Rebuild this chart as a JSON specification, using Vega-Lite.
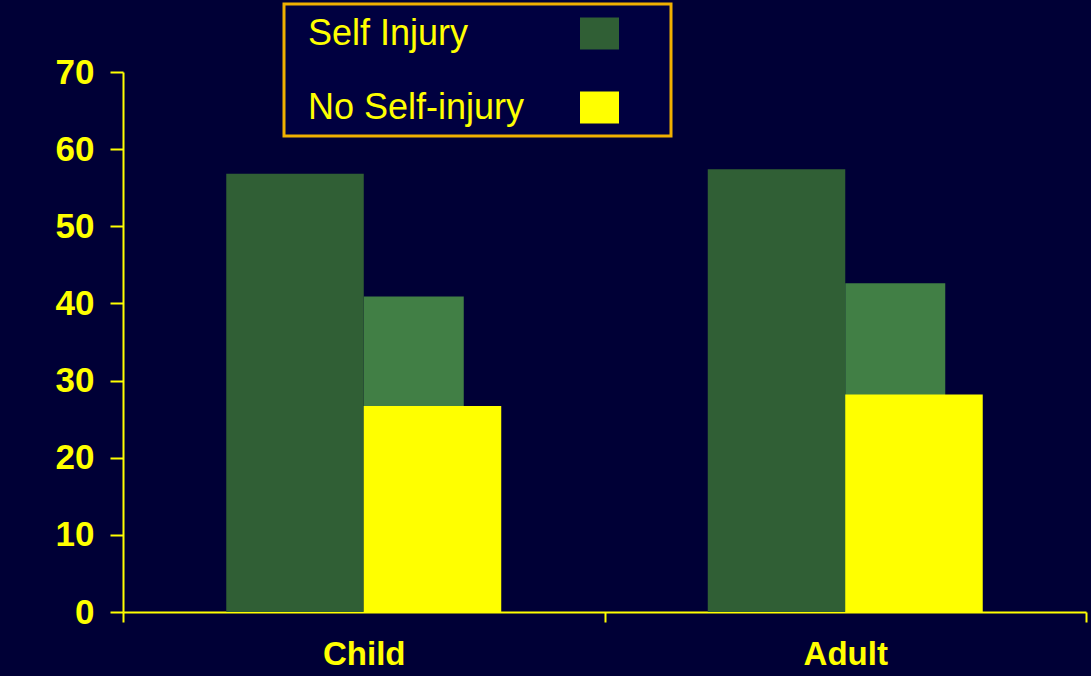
{
  "$schema": "https://vega.github.io/schema/vega-lite/v6.json",
  "width": 963,
  "height": 540,
  "autosize": {"type": "none"},
  "padding": {"left": 123, "top": 72, "right": 5, "bottom": 64},
  "background": "#000036",
  "config": {
    "view": {"stroke": null},
    "font": "Liberation Sans",
    "axisX": {
      "domainColor": "#ffff00", "domainWidth": 2,
      "tickColor": "#ffff00", "tickWidth": 2, "tickSize": 10, "tickBand": "extent",
      "labelColor": "#ffff00", "labelFont": "Liberation Sans", "labelFontWeight": "bold", "labelFontSize": 33,
      "labelPadding": 16, "labelAngle": 0, "grid": false, "title": null
    },
    "axisY": {
      "domainColor": "#ffff00", "domainWidth": 2,
      "tickColor": "#ffff00", "tickWidth": 2, "tickSize": 13,
      "labelColor": "#ffff00", "labelFont": "Liberation Sans", "labelFontWeight": "bold", "labelFontSize": 35,
      "labelPadding": 16, "grid": false, "title": null
    }
  },
  "datasets": {
    "main": [
      {"group": "Child", "series": "Self Injury", "value": 56.8},
      {"group": "Child", "series": "No Self-injury", "value": 26.7},
      {"group": "Adult", "series": "Self Injury", "value": 57.4},
      {"group": "Adult", "series": "No Self-injury", "value": 28.2}
    ],
    "mid": [
      {"group": "Child", "slot": "No Self-injury", "value": 40.9},
      {"group": "Adult", "slot": "No Self-injury", "value": 42.6}
    ]
  },
  "resolve": {"scale": {"xOffset": "independent"}},
  "layer": [
    {
      "data": {"name": "mid"},
      "mark": {"type": "bar", "color": "#417f45"},
      "encoding": {
        "x": {"field": "group", "type": "nominal", "sort": ["Child", "Adult"], "scale": {"paddingInner": 0, "paddingOuter": 0}},
        "xOffset": {"field": "slot", "type": "nominal", "scale": {"domain": ["s0", "s1", "No Self-injury", "s3"], "paddingInner": 0, "paddingOuter": 0.4075}},
        "y": {"field": "value", "type": "quantitative", "scale": {"domain": [0, 70]}, "axis": {"values": [0, 10, 20, 30, 40, 50, 60, 70]}}
      }
    },
    {
      "data": {"name": "main"},
      "mark": {"type": "bar"},
      "encoding": {
        "x": {"field": "group", "type": "nominal", "sort": ["Child", "Adult"]},
        "xOffset": {"field": "series", "type": "nominal", "sort": ["Self Injury", "No Self-injury"], "scale": {"paddingInner": 0, "paddingOuter": 0.751}},
        "y": {"field": "value", "type": "quantitative"},
        "color": {
          "field": "series", "type": "nominal",
          "scale": {"domain": ["Self Injury", "No Self-injury"], "range": ["#305f35", "#ffff00"]},
          "legend": {
            "orient": "none", "legendX": 161, "legendY": -68,
            "title": " ", "titleOrient": "right", "titlePadding": 42, "titleFontSize": 36,
            "padding": 10, "strokeColor": "#f0b000", "fillColor": "#000040",
            "labelFont": "Liberation Sans", "labelFontSize": 36, "labelColor": "#ffff00", "labelLimit": 400,
            "symbolType": "M-1,-0.82H1V0.82H-1Z", "symbolSize": 1521, "symbolStrokeWidth": 0, "symbolOpacity": 1,
            "symbolOffset": 286, "labelOffset": -311, "labelAlign": "left", "rowPadding": 36,
            "encode": {"legend": {"update": {"strokeWidth": {"value": 3}}}}
          }
        }
      }
    }
  ]
}
